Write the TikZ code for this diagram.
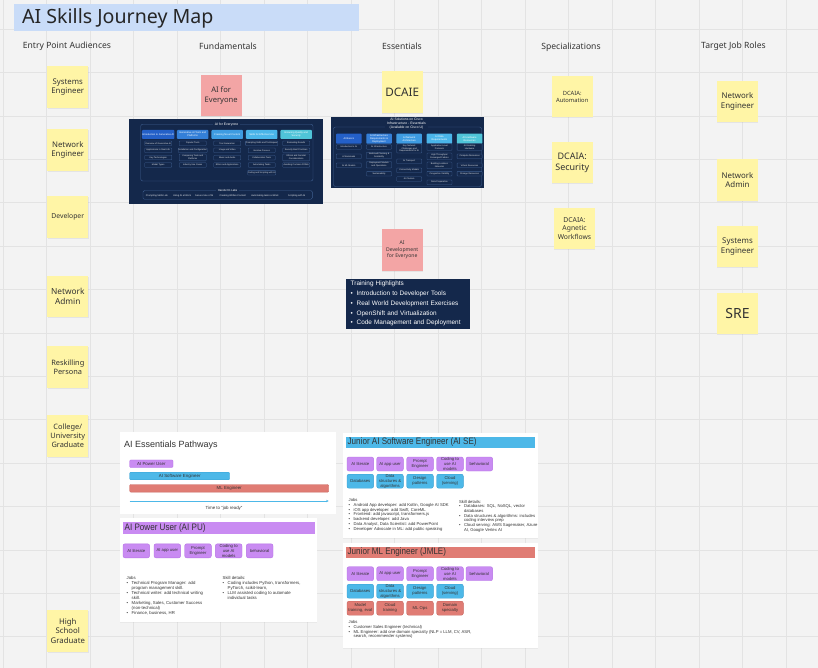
\documentclass[tikz,border=0pt]{standalone}
\usepackage{fontspec}
\setmainfont{Noto Sans}
\newfontfamily\cardfont{Liberation Sans}
\usepackage{graphicx}
\usetikzlibrary{shadows,arrows.meta}
\definecolor{bgc}{HTML}{F3F3F3}
\definecolor{gridc}{HTML}{E3E3E3}
\definecolor{titleblue}{HTML}{C9DCF8}
\definecolor{stY}{HTML}{FFF5A6}
\definecolor{stP}{HTML}{F3A5A5}
\definecolor{navy}{HTML}{14284B}
\definecolor{navyline}{HTML}{3F5F90}
\definecolor{hA}{HTML}{2460C8}
\definecolor{hB}{HTML}{347FD8}
\definecolor{hC}{HTML}{3E9CE2}
\definecolor{hD}{HTML}{4AB5EA}
\definecolor{hE}{HTML}{4FC4D8}
\definecolor{purp}{HTML}{C98BF2}
\definecolor{purpD}{HTML}{B672E6}
\definecolor{skyb}{HTML}{4DB8E8}
\definecolor{skybD}{HTML}{37A0D2}
\definecolor{redc}{HTML}{E07C74}
\definecolor{redcD}{HTML}{C9655E}
\definecolor{txt}{HTML}{333333}
\newcommand\fs[1]{\fontsize{#1}{\fpeval{1.22*#1}}\selectfont}
\newcommand\jf{\cardfont\fontsize{4.3}{5}\selectfont}
\newcommand\bupt{\makebox[5pt][l]{\textbullet}}
\newcommand\ctpt{\hspace*{5pt}}
\tikzset{
  sticky/.style={fill=stY, minimum width=41pt, minimum height=41.5pt, inner sep=1pt, align=center, text=txt,
    drop shadow={opacity=0.13, shadow xshift=0.4pt, shadow yshift=-0.9pt}},
  pstick/.style={sticky, fill=stP},
  colhdr/.style={text=txt, font=\fs{8.6}},
  ptab/.style={fill=navy, text=white, font=\cardfont\fs{3.4}, inner xsep=2pt, inner ysep=0.4pt, align=center},
  phdr/.style={minimum width=31.5pt, minimum height=9pt, text=white, font=\cardfont\fs{2.5}, align=center, inner sep=0.3pt, rounded corners=0.8pt},
  dhdr/.style={phdr, minimum width=25.5pt, minimum height=10pt},
  pitem/.style={draw=navyline, line width=0.3pt, fill=navy, text=white!88!navy, font=\cardfont\fs{2.2}, minimum width=27pt, minimum height=4.6pt, inner sep=0.2pt, rounded corners=0.6pt, align=center},
  ditem/.style={pitem, minimum width=25pt},
  labtxt/.style={text=white!90!navy, font=\cardfont\fs{2.4}, inner sep=0pt},
  card/.style={fill=white, drop shadow={opacity=0.08, shadow xshift=0.3pt, shadow yshift=-0.6pt}},
  cardhdr/.style={anchor=west, inner sep=0pt, text=txt, font=\cardfont\fs{9.4}},
  bar/.style={rounded corners=1pt, minimum height=7.6pt, text=txt, font=\cardfont\fs{4.4}, inner sep=0pt},
  skill/.style={rounded corners=2pt, minimum width=26.6pt, minimum height=14pt, text=txt, font=\cardfont\fontsize{4.2}{4.8}\selectfont, inner sep=0pt, align=center, line width=0.4pt},
  sP/.style={skill, fill=purp, draw=purpD},
  sB/.style={skill, fill=skyb, draw=skybD},
  sR/.style={skill, fill=redc, draw=redcD},
  jobtxt/.style={anchor=north west, inner sep=0pt, align=left, text=txt, font=\jf},
}
\begin{document}
\begin{tikzpicture}[x=1pt,y=-1pt]
\useasboundingbox (0,0) rectangle (818,668);
\fill[bgc] (0,0) rectangle (818,668);
\foreach \i in {0,...,18} \draw[gridc, line width=0.9pt] ({3.2+43.5*\i},0) -- ({3.2+43.5*\i},668);
\foreach \j in {0,...,14} \draw[gridc, line width=0.9pt] (0,{29.3+43.4*\j}) -- (818,{29.3+43.4*\j});

% title
\fill[titleblue] (14,4) rectangle (359,31);
\node[anchor=west, inner sep=0pt, text=black!85, font=\fs{19.6}] (title) at (22,18) {AI Skills Journey Map};

% column headers
\node[colhdr] (h1) at (67,46.5) {Entry Point Audiences};
\node[colhdr] (h2) at (228,46.5) {Fundamentals};
\node[colhdr] (h3) at (402,46.5) {Essentials};
\node[colhdr] (h4) at (571,47) {Specializations};
\node[colhdr] (h5) at (733.5,46.5) {Target Job Roles};

% entry stickies
\node[sticky, font=\fs{7.8}] (sA) at (67.8,87) {Systems\\Engineer};
\node[sticky, font=\fs{7.8}] (sB) at (67.8,150) {Network\\Engineer};
\node[sticky, font=\fs{6.8}] (sC) at (67.8,217) {Developer};
\node[sticky, font=\fs{8.3}] (sD) at (67.8,296.5) {Network\\Admin};
\node[sticky, font=\fs{7.4}] (sE) at (67.8,367) {Reskilling\\Persona};
\node[sticky, font=\fs{7.4}] (sF) at (67.8,436) {College/\\University\\Graduate};
\node[sticky, font=\fs{7.8}] (sG) at (67.8,631) {High\\School\\Graduate};

% target stickies
\node[sticky, font=\fs{7.9}] (tA) at (737.5,101.7) {Network\\Engineer};
\node[sticky, font=\fs{7.9}] (tB) at (737.5,180) {Network\\Admin};
\node[sticky, font=\fs{7.9}] (tC) at (737.5,246.7) {Systems\\Engineer};
\node[sticky, font=\fs{14}] (tD) at (737.5,313.5) {SRE};

% specializations
\node[sticky, font=\fs{5.8}] (pA) at (572.2,96.5) {DCAIA:\\Automation};
\node[sticky, font=\fs{9}] (pB) at (572.2,162.5) {DCAIA:\\Security};
\node[sticky, font=\fs{6.8}] (pC) at (574.5,228.5) {DCAIA:\\Agnetic\\Workflows};

% fundamentals / essentials stickies
\node[pstick, font=\fs{7.6}] (fA) at (221.2,95.5) {AI for\\Everyone};
\node[sticky, font=\fs{11.7}] (eA) at (402.2,92) {DCAIE};
\node[pstick, font=\fs{5.1}] (eB) at (402.2,250) {AI\\Development\\for Everyone};

% ===== AI for Everyone panel =====
\fill[navy] (129,119) rectangle (323,204.3);
\draw[navyline, line width=0.4pt, rounded corners=2pt] (140.7,124.3) rectangle (313,181);
\node[ptab] (fT) at (226.5,124.3) {AI for Everyone};
\node[phdr, fill=hA] (fh1) at (158.2,134.5) {Introduction to Generative AI};
\node[phdr, fill=hB] (fh2) at (192.7,134.5) {Generative AI Tools and\\Platforms};
\node[phdr, fill=hC] (fh3) at (227.2,134.5) {Creating Novel Content};
\node[phdr, fill=hD] (fh4) at (261.7,134.5) {Skills for Effective Use};
\node[phdr, fill=hE] (fh5) at (296.2,134.5) {Ensuring Quality and\\Security};
\node[pitem] (f11) at (158.2,143.3) {Overview of Generative AI};
\node[pitem] (f12) at (158.2,150.3) {Applications in Real Life};
\node[pitem] (f13) at (158.2,157.5) {Key Technologies};
\node[pitem] (f14) at (158.2,165) {Model Types};
\node[pitem] (f21) at (192.7,143.3) {Popular Tools};
\node[pitem] (f22) at (192.7,150.3) {Installation and Configuration};
\node[pitem, minimum height=6.8pt] (f23) at (192.7,157.5) {Comparing Tools and\\Platforms};
\node[pitem] (f24) at (192.7,165) {Industry Use Cases};
\node[pitem] (f31) at (227.2,143.3) {Text Generation};
\node[pitem] (f32) at (227.2,150.3) {Image and Video};
\node[pitem] (f33) at (227.2,157.8) {Music and Audio};
\node[pitem] (f34) at (227.2,165) {Ethics and Applications};
\node[pitem] (f41) at (261.7,143.3) {Prompting Skills and Techniques};
\node[pitem] (f42) at (261.7,150.3) {Iterative Process};
\node[pitem] (f43) at (261.7,157.8) {Collaboration Tools};
\node[pitem] (f44) at (261.7,165) {Automating Tasks};
\node[pitem] (f45) at (261.7,172.7) {Coding and Scripting with AI};
\node[pitem] (f51) at (296.2,143.3) {Evaluating Results};
\node[pitem] (f52) at (296.2,150.3) {Security Best Practices};
\node[pitem, minimum height=6.8pt] (f53) at (296.2,157.5) {Ethical and Societal\\Considerations};
\node[pitem] (f54) at (296.2,165) {Avoiding Common Pitfalls};
\draw[navyline, line width=0.4pt, rounded corners=1.5pt] (143,190.5) rectangle (312.3,199.3);
\node[ptab, font=\cardfont\fs{2.8}] (hT) at (227.6,190.5) {Hands On Labs};
\node[labtxt] (l1) at (156.8,195.4) {Prompting Skills Lab};
\node[labtxt] (l2) at (182,195.4) {Using AI at Work};
\node[labtxt] (l3) at (204.3,195.4) {Secure Use of AI};
\node[labtxt] (l4) at (232.7,195.4) {Creating Written Content};
\node[labtxt] (l5) at (265,195.4) {Automating tasks at Work};
\node[labtxt] (l6) at (296.8,195.4) {Scripting with AI};

% ===== DCAIE panel =====
\fill[navy] (331,117) rectangle (484,188.5);
\draw[navyline, line width=0.4pt, rounded corners=2pt] (333.5,127) rectangle (481.5,186.5);
\node[ptab, font=\cardfont\fontsize{3.4}{4.1}\selectfont] (dT) at (406.5,124) {AI Solutions on Cisco\\Infrastructure - Essentials\\(Available on Cisco U)};
\node[dhdr, fill=hA] (dh1) at (348.8,138.7) {AI Basics};
\node[dhdr, fill=hB] (dh2) at (379,138.7) {AI Infrastructure\\Requirements \&\\Deployment};
\node[dhdr, fill=hC] (dh3) at (409.2,138.7) {AI Network\\Architecture};
\node[dhdr, fill=hD] (dh4) at (439.4,138.7) {AI Data\\Requirements};
\node[dhdr, fill=hE] (dh5) at (469.6,138.7) {AI Hardware\\Resources};
\node[ditem] (d11) at (348.8,147) {Introduction to AI};
\node[ditem] (d12) at (348.8,156.3) {AI Workloads};
\node[ditem] (d13) at (348.8,165.3) {AI ML Models};
\node[ditem] (d21) at (379,147) {AI Infrastructure};
\node[ditem, minimum height=6.5pt] (d22) at (379,155.6) {Workload Planning \&\\Scalability};
\node[ditem, minimum height=6.5pt] (d23) at (379,164.7) {Deployment Models\\and Operations};
\node[ditem] (d24) at (379,173.7) {Sustainability};
\node[ditem, minimum height=9pt] (d31) at (409.2,148.5) {Key Network\\Challenges and\\Requirements for AI};
\node[ditem] (d32) at (409.2,161.3) {AI Transport};
\node[ditem] (d33) at (409.2,170.3) {Connectivity Models};
\node[ditem] (d34) at (409.2,179) {AI Clusters};
\node[ditem, minimum height=6.5pt] (d41) at (439.4,147) {Application Level\\Protocols};
\node[ditem, minimum height=6.5pt] (d42) at (439.4,156.3) {High Throughput\\Converged Fabrics};
\node[ditem, minimum height=6.5pt] (d43) at (439.4,165.3) {Building Lossless\\Networks};
\node[ditem] (d44) at (439.4,173.7) {Congestion Visibility};
\node[ditem] (d45) at (439.4,182.3) {Data Preparation};
\node[ditem, minimum height=6.5pt] (d51) at (469.6,147) {AI Enabling\\Hardware};
\node[ditem] (d52) at (469.6,156.3) {Compute Resources};
\node[ditem] (d53) at (469.6,165.3) {Virtual Resources};
\node[ditem] (d54) at (469.6,173.7) {Storage Resources};

% ===== Training highlights =====
\node[fill=navy, text=white, anchor=north west, minimum width=123.3pt, minimum height=50pt, inner xsep=4.5pt, inner ysep=0pt, align=left, text width=114.3pt, font=\cardfont\fontsize{6.4}{9.9}\selectfont] (tr) at (346,278.3)
 {Training Highlights\\
  \makebox[6pt][l]{\textbullet}Introduction to Developer Tools\\
  \makebox[6pt][l]{\textbullet}Real World Development Exercises\\
  \makebox[6pt][l]{\textbullet}OpenShift and Virtualization\\
  \makebox[6pt][l]{\textbullet}Code Management and Deployment};

% ===== Pathways card =====
\fill[card] (120,432) rectangle (336,513.5);
\node[cardhdr, font=\cardfont\fs{9}] (pwT) at (124,445) {AI Essentials Pathways};
\node[bar, fill=purp, draw=purpD, line width=0.3pt, minimum width=43.3pt] (bPU) at (151.35,463.7) {AI Power User};
\node[bar, fill=skyb, draw=skybD, line width=0.3pt, minimum width=100pt] (bSE) at (179.7,476) {AI Software Engineer};
\node[bar, fill=redc, draw=redcD, line width=0.3pt, minimum width=199pt] (bML) at (229.2,488.3) {ML Engineer};
\coordinate (tl0) at (129.7,501);
\coordinate (tl1) at (328.7,501);
\draw[skyb, line width=0.7pt, -{Stealth[length=2.6pt,width=2.4pt]}] (tl0) -- (tl1);
\node[inner sep=0pt, text=txt, font=\cardfont\fs{4.4}] (tjr) at (224,508.3) {Time to \textquotedblleft job ready\textquotedblright};

% ===== AI Power User card =====
\fill[card] (120,518) rectangle (317,622);
\fill[purp] (123,521.7) rectangle (315.3,534);
\node[cardhdr] (puT) at (124.5,528) {\scalebox{0.86}[1]{AI Power User (AI PU)}};
\node[sP] (pu1) at (136.3,550.8) {AI literate};
\node[sP] (pu2) at (167.3,550.8) {AI app user};
\node[sP] (pu3) at (198,550.8) {Prompt\\Engineer};
\node[sP] (pu4) at (228.7,550.8) {Coding to\\use AI\\models};
\node[sP] (pu5) at (259.7,550.8) {behavioral};
\node[jobtxt] (puJ) at (126.5,575.8) {Jobs\\
\bupt Technical Program Manager: add\\
\ctpt program management skill.\\
\bupt Technical writer: add technical writing\\
\ctpt skill.\\
\bupt Marketing, Sales, Customer Success\\
\ctpt (non-technical)\\
\bupt Finance, business, HR};
\node[jobtxt] (puS) at (222.5,575.8) {Skill details:\\
\bupt Coding includes Python, transformers,\\
\ctpt PyTorch, scikit-learn,\\
\bupt LLM assisted coding to automate\\
\ctpt individual tasks};

% ===== Junior AI SE card =====
\fill[card] (343,433) rectangle (538,538);
\fill[skyb] (346,436.7) rectangle (535,448.3);
\node[cardhdr] (seT) at (347.5,442.5) {\scalebox{0.86}[1]{Junior AI Software Engineer (AI SE)}};
\node[sP] (se1) at (360.3,464) {AI literate};
\node[sP] (se2) at (390,464) {AI app user};
\node[sP] (se3) at (420,464) {Prompt\\Engineer};
\node[sP] (se4) at (450,464) {Coding to\\use AI\\models};
\node[sP] (se5) at (479.3,464) {behavioral};
\node[sB] (se6) at (360.3,481.2) {Databases};
\node[sB] (se7) at (390,481.2) {Data\\structures \&\\algorithms};
\node[sB] (se8) at (420,481.2) {Design\\patterns};
\node[sB] (se9) at (450,481.2) {Cloud\\(serving)};
\node[jobtxt, font=\cardfont\fontsize{4.2}{4.75}\selectfont] (seJ) at (348.5,498.4) {Jobs\\
\bupt Android App developer: add Kotlin, Google AI SDK\\
\bupt iOS app developer: add Swift, CoreML\\
\bupt Frontend: add javascript, transformers.js\\
\bupt backend developer: add Java\\
\bupt Data Analyst, Data Scientist: add PowerPoint\\
\bupt Developer Advocate in ML: add public speaking};
\node[jobtxt, font=\cardfont\fontsize{4.2}{4.65}\selectfont] (seS) at (458.8,500) {Skill details:\\
\bupt Databases: SQL, NoSQL, vector\\
\ctpt databases\\
\bupt Data structures \& algorithms: includes\\
\ctpt coding interview prep\\
\bupt Cloud serving: AWS Sagemaker, Azure\\
\ctpt AI, Google Vertex AI};

% ===== Junior ML Engineer card =====
\fill[card] (343,543) rectangle (538,648);
\fill[redc] (346,546.7) rectangle (535,558.3);
\node[cardhdr] (mlT) at (347.5,552.5) {\scalebox{0.86}[1]{Junior ML Engineer (JMLE)}};
\node[sP] (ml1) at (360.3,573.7) {AI literate};
\node[sP] (ml2) at (390,573.7) {AI app user};
\node[sP] (ml3) at (420,573.7) {Prompt\\Engineer};
\node[sP] (ml4) at (450,573.7) {Coding to\\use AI\\models};
\node[sP] (ml5) at (479.3,573.7) {behavioral};
\node[sB] (ml6) at (360.3,591.2) {Databases};
\node[sB] (ml7) at (390,591.2) {Data\\structures \&\\algorithms};
\node[sB] (ml8) at (420,591.2) {Design\\patterns};
\node[sB] (ml9) at (450,591.2) {Cloud\\(serving)};
\node[sR] (ml10) at (360.3,608.2) {Model\\training, eval};
\node[sR] (ml11) at (390,608.2) {Cloud\\training};
\node[sR] (ml12) at (420,608.2) {ML Ops};
\node[sR] (ml13) at (450,608.2) {Domain\\specialty};
\node[jobtxt, font=\cardfont\fontsize{4.2}{4.7}\selectfont] (mlJ) at (348.5,620.4) {Jobs\\
\bupt Customer Sales Engineer (technical)\\
\bupt ML Engineer: add one domain specialty (NLP = LLM, CV, ASR,\\
\ctpt search, recommender systems)};
\end{tikzpicture}
\end{document}
